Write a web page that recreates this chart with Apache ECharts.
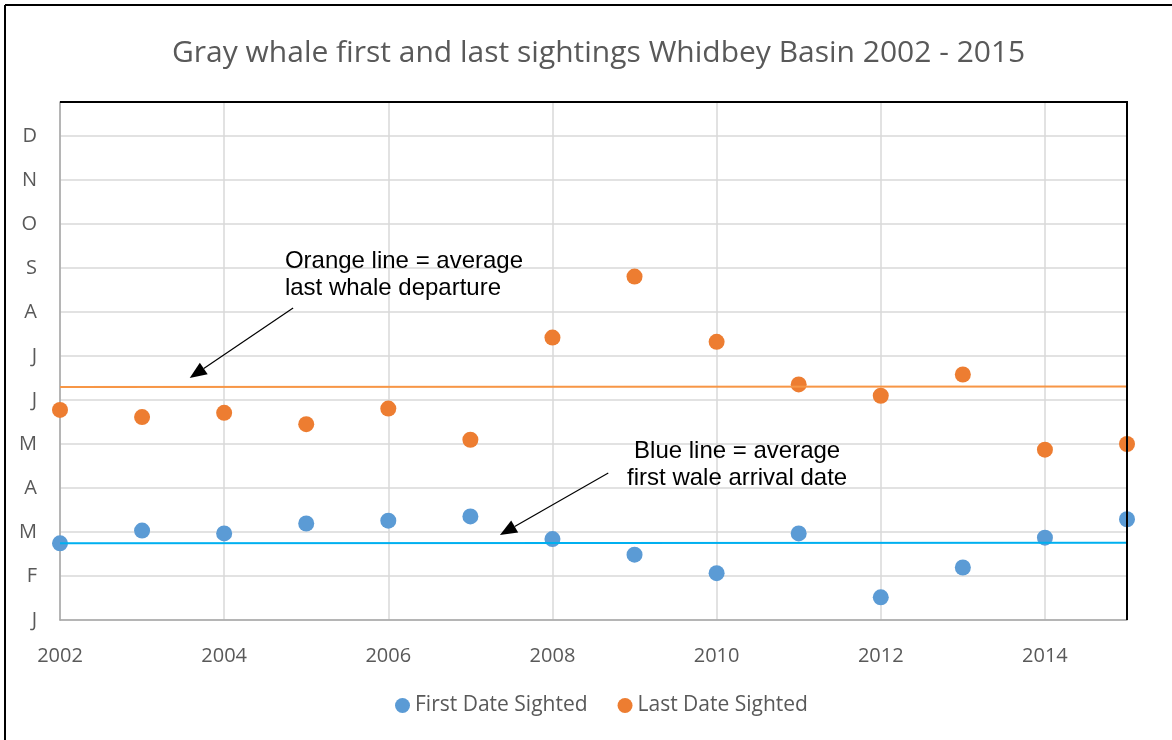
<!DOCTYPE html>
<html>
<head>
<meta charset="utf-8">
<title>Gray whale sightings</title>
<script src="https://cdn.jsdelivr.net/npm/echarts@6/dist/echarts.min.js"></script>
<style>
  html, body { margin: 0; padding: 0; background: #fff; }
  #chart { width: 1172px; height: 740px; }
</style>
</head>
<body>
<div id="chart"></div>
<script>
// Years on the x axis
const years = [2002, 2003, 2004, 2005, 2006, 2007, 2008, 2009, 2010, 2011, 2012, 2013, 2014, 2015];
// Day of year (0 = 1 Jan)
const firstSighted = [54, 63, 61, 68, 70, 73, 57, 46, 33, 61, 16, 37, 58, 71];
const lastSighted = [148, 143, 146, 138, 149, 127, 199, 242, 196, 166, 158, 173, 120, 124];
// Average lines (start / end values)
const avgFirst = [54, 54.4];
const avgLast = [164.2, 164.6];
// Month tick labels, one every 31 days
const monthLabels = ['J', 'F', 'M', 'A', 'M', 'J', 'J', 'A', 'S', 'O', 'N', 'D'];

const chart = echarts.init(document.getElementById('chart'), null, { renderer: 'canvas' });

const grisTexto = '#595959';

const option = {
  animation: false,
  title: {
    text: 'Gray whale first and last sightings Whidbey Basin 2002 - 2015',
    left: 167,
    top: 33,
    textStyle: {
      fontFamily: 'Open Sans',
      fontWeight: 'normal',
      fontSize: 30,
      color: grisTexto
    }
  },
  legend: {
    data: ['First Date Sighted', 'Last Date Sighted'],
    bottom: 19,
    left: 390,
    icon: 'circle',
    itemWidth: 15,
    itemHeight: 15,
    itemGap: 30,
    textStyle: {
      fontFamily: 'Open Sans',
      fontSize: 21,
      color: grisTexto
    }
  },
  grid: {
    left: 60,
    right: 45,
    top: 102,
    bottom: 120
  },
  xAxis: {
    type: 'value',
    min: 2002,
    max: 2015,
    interval: 2,
    axisLine: { show: true, lineStyle: { color: '#A6A6A6', width: 1.5 } },
    axisTick: { show: false },
    splitLine: { show: true, lineStyle: { color: '#D9D9D9', width: 1.5 } },
    axisLabel: {
      showMaxLabel: false,
      margin: 26,
      fontFamily: 'Open Sans',
      fontSize: 20,
      color: grisTexto,
      formatter: function (v) { return String(v); }
    }
  },
  yAxis: {
    type: 'value',
    min: 0,
    max: 365,
    interval: 31,
    axisLine: { show: true, lineStyle: { color: '#A6A6A6', width: 1.5 } },
    axisTick: { show: false },
    splitLine: { show: true, lineStyle: { color: '#D9D9D9', width: 1.5 } },
    axisLabel: {
      showMaxLabel: false,
      margin: 23,
      fontFamily: 'Open Sans',
      fontSize: 20,
      color: grisTexto,
      formatter: function (v) {
        const i = Math.round(v / 31);
        return monthLabels[i] || '';
      }
    }
  },
  series: [
    {
      name: 'First Date Sighted',
      type: 'scatter',
      symbolSize: 16,
      itemStyle: { color: '#5B9BD5', opacity: 1 },
      data: years.map((y, i) => [y, firstSighted[i]]),
      z: 2
    },
    {
      name: 'Last Date Sighted',
      type: 'scatter',
      symbolSize: 16,
      itemStyle: { color: '#ED7D31', opacity: 1 },
      data: years.map((y, i) => [y, lastSighted[i]]),
      z: 2
    },
    {
      name: 'avgFirst',
      type: 'line',
      symbol: 'none',
      lineStyle: { color: '#00B0F0', width: 2 },
      data: [[years[0], avgFirst[0]], [years[years.length - 1], avgFirst[1]]],
      z: 3
    },
    {
      name: 'avgLast',
      type: 'line',
      symbol: 'none',
      lineStyle: { color: '#F79646', width: 2 },
      data: [[years[0], avgLast[0]], [years[years.length - 1], avgLast[1]]],
      z: 3
    }
  ]
};

chart.setOption(option);

// Notas con flecha, colocadas en coordenadas de datos
function px(p) {
  return chart.convertToPixel({ gridIndex: 0 }, p);
}

function flecha(desde, hasta) {
  const a = px(desde);
  const b = px(hasta);
  const ang = Math.atan2(b[1] - a[1], b[0] - a[0]);
  const largo = 17, ancho = 7;
  const bx = b[0] - largo * Math.cos(ang), by = b[1] - largo * Math.sin(ang);
  const ox = -Math.sin(ang) * ancho, oy = Math.cos(ang) * ancho;
  return [
    {
      type: 'line',
      shape: { x1: a[0], y1: a[1], x2: bx, y2: by },
      style: { stroke: '#000', lineWidth: 1.2 },
      z: 10
    },
    {
      type: 'polygon',
      shape: { points: [[b[0], b[1]], [bx + ox, by + oy], [bx - ox, by - oy]] },
      style: { fill: '#000' },
      z: 10
    }
  ];
}

function nota(texto, en, align) {
  const p = px(en);
  return {
    type: 'text',
    x: p[0],
    y: p[1],
    style: {
      text: texto,
      fontFamily: 'Liberation Sans',
      fontSize: 24,
      lineHeight: 27,
      fill: '#000',
      align: align,
      verticalAlign: 'middle'
    },
    z: 10
  };
}

// borde superior y derecho del área de trazado
const esqSup = px([2002, 365]);
const esqDer = px([2015, 365]);
const esqInf = px([2015, 0]);

const extras = [
  // marco exterior (solo arriba e izquierda)
  { type: 'line', shape: { x1: 5, y1: 5, x2: 1172, y2: 5 }, style: { stroke: '#000', lineWidth: 2 } },
  { type: 'line', shape: { x1: 5, y1: 5, x2: 5, y2: 740 }, style: { stroke: '#000', lineWidth: 2 } },
  { type: 'polyline', shape: { points: [esqSup, esqDer, esqInf] }, style: { stroke: '#000', lineWidth: 2, fill: null }, z: 5 },
  nota('Orange line = average\nlast whale departure', [2004.74, 243.4], 'left'),
  nota('Blue line = average\nfirst wale arrival date', [2010.25, 109.6], 'center')
].concat(flecha([2004.84, 219.8], [2003.58, 170.5]))
 .concat(flecha([2008.68, 103.6], [2007.36, 59.9]));

chart.setOption({ graphic: extras });

window.addEventListener('resize', function () {
  chart.resize();
});
</script>
</body>
</html>
